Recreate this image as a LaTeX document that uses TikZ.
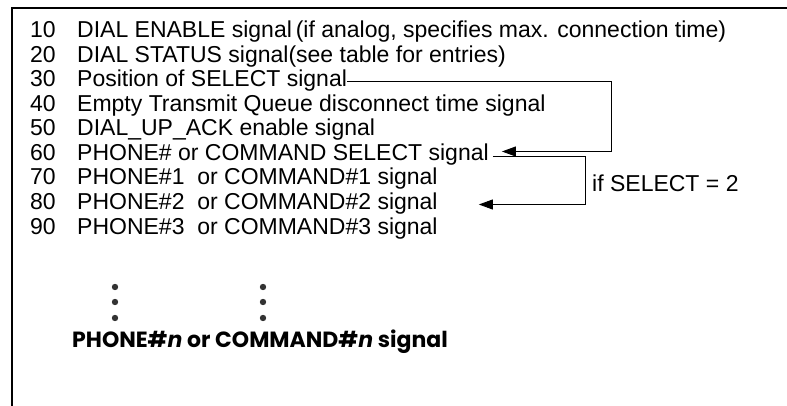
\documentclass[tikz,border=0pt]{standalone}
\usepackage{fontspec}
\setmainfont{Liberation Sans}
\newfontfamily\geofont{Poppins}
\usetikzlibrary{arrows.meta}
\begin{document}
\begin{tikzpicture}[x=1pt,y=-1pt,
  txt/.style={anchor=base west, inner sep=0pt, font=\fontsize{23}{25}\selectfont},
  conn/.style={line width=0.9pt},
  tip/.style={-{Triangle[length=14pt,width=10pt]}},
  dot/.style={fill=black!80}]
\useasboundingbox (0,0) rectangle (787,406);
\draw[line width=2pt] (11.5,406) -- (11.5,8) -- (787,8);
\node[txt] (n10) at (30,38) {10};
\node[txt] (t10) at (77,38) {DIAL ENABLE signal\,(if analog, specifies max. connection time)};
\node[txt] (n20) at (30,62.5) {20};
\node[txt] (t20) at (77,62.5) {DIAL STATUS signal(see table for entries)};
\node[txt] (n30) at (30,87) {30};
\node[txt] (t30) at (77,87) {Position of SELECT signal};
\node[txt] (n40) at (30,111.5) {40};
\node[txt] (t40) at (77,111.5) {Empty Transmit Queue disconnect time signal};
\node[txt] (n50) at (30,136) {50};
\node[txt] (t50) at (77,136) {DIAL\_UP\_ACK enable signal};
\node[txt] (n60) at (30,160.5) {60};
\node[txt] (t60) at (77,160.5) {PHONE\# or COMMAND SELECT signal};
\node[txt] (n70) at (30,185) {70};
\node[txt] (t70) at (77,185) {PHONE\#1\ \ or COMMAND\#1 signal};
\node[txt] (n80) at (30,209.5) {80};
\node[txt] (t80) at (77,209.5) {PHONE\#2\ \ or COMMAND\#2 signal};
\node[txt] (n90) at (30,234) {90};
\node[txt] (t90) at (77,234) {PHONE\#3\ \ or COMMAND\#3 signal};
\node[txt] (cond) at (592,192) {if SELECT = 2};
\coordinate (v1) at (611,0);
\coordinate (v2) at (585,0);
\draw[conn,tip] ([yshift=6pt]t30.base east) -- ([yshift=6pt]t30.base east -| v1)
  -- ([yshift=9pt]t60.base east -| v1) -- ([xshift=13pt,yshift=9pt]t60.base east);
\draw[conn,tip] ([xshift=4pt,yshift=4pt]t60.base east) -- ([yshift=4pt]t60.base east -| v2)
  -- ([yshift=5pt]t80.base east -| v2) -- ([xshift=41pt,yshift=5pt]t80.base east);
\foreach \xx in {115,263} {
  \foreach \yy in {287,302,318} { \fill[dot] (\xx,\yy) circle (3.2pt); }
}
\node[anchor=base west, inner sep=0pt, font=\geofont\bfseries\fontsize{22}{24}\selectfont] (last) at (72,347) {PHONE\#\textit{n} or COMMAND\#\textit{n} signal};
\end{tikzpicture}
\end{document}
